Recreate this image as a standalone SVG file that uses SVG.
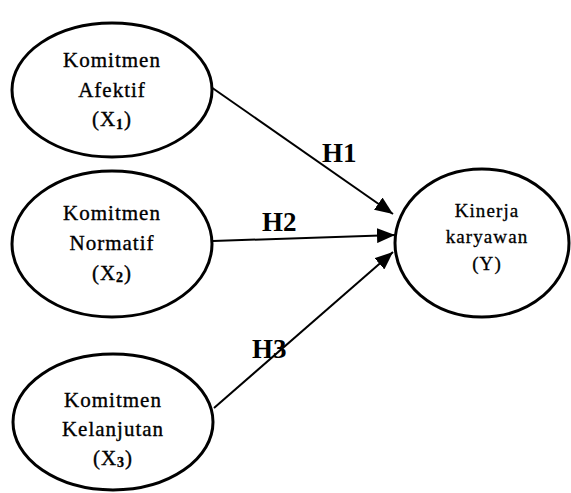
<svg xmlns="http://www.w3.org/2000/svg" width="571" height="493" viewBox="0 0 571 493">
<style>
.node ellipse{fill:#fff;stroke:#000;stroke-width:3}
.t{font-family:"Liberation Serif","Times New Roman",serif;font-size:21px;letter-spacing:1px;text-anchor:middle;fill:#000;stroke:#000;stroke-width:0.35}
.ty{font-family:"Liberation Serif","Times New Roman",serif;font-size:19px;letter-spacing:1.1px;text-anchor:middle;fill:#000;stroke:#000;stroke-width:0.3}
.sub{font-size:14px;font-weight:bold}
.h{font-family:"Liberation Serif","Times New Roman",serif;font-size:27px;font-weight:bold;fill:#000}
.edge{stroke:#000;stroke-width:2;fill:none;marker-end:url(#arr)}
</style>
<defs>
<marker id="arr" markerWidth="9" markerHeight="7.5" refX="9" refY="3.75" orient="auto" markerUnits="strokeWidth">
<path d="M0,0 L9,3.75 L0,7.5 z" fill="#000"/>
</marker>
</defs>
<rect width="571" height="493" fill="#fff"/>
<g id="connectors">
<line class="edge" x1="211" y1="87" x2="393" y2="214"/>
<line class="edge" x1="213" y1="241" x2="395" y2="235"/>
<line class="edge" x1="214" y1="408" x2="393" y2="252"/>
<text class="h" x="322" y="162">H1</text>
<text class="h" x="262" y="231">H2</text>
<text class="h" x="252" y="358">H3</text>
</g>
<g id="x1" class="node">
<ellipse cx="112" cy="90" rx="100" ry="67"/>
<text class="t" x="112" y="67">Komitmen</text>
<text class="t" x="112" y="97">Afektif</text>
<text class="t" x="112" y="126">(X<tspan class="sub" dy="3">1</tspan><tspan dy="-3">)</tspan></text>
</g>
<g id="x2" class="node">
<ellipse cx="112" cy="244" rx="100" ry="73"/>
<text class="t" x="112" y="220">Komitmen</text>
<text class="t" x="112" y="250">Normatif</text>
<text class="t" x="112" y="280">(X<tspan class="sub" dy="2">2</tspan><tspan dy="-2">)</tspan></text>
</g>
<g id="x3" class="node">
<ellipse cx="113" cy="422" rx="100" ry="68"/>
<text class="t" x="113" y="407">Komitmen</text>
<text class="t" x="113" y="436">Kelanjutan</text>
<text class="t" x="113" y="465">(X<tspan class="sub" dy="2">3</tspan><tspan dy="-2">)</tspan></text>
</g>
<g id="y" class="node">
<ellipse cx="482" cy="243" rx="87" ry="74"/>
<text class="ty" x="487" y="217">Kinerja</text>
<text class="ty" x="487" y="243">karyawan</text>
<text class="ty" x="487" y="270">(Y)</text>
</g>
</svg>
